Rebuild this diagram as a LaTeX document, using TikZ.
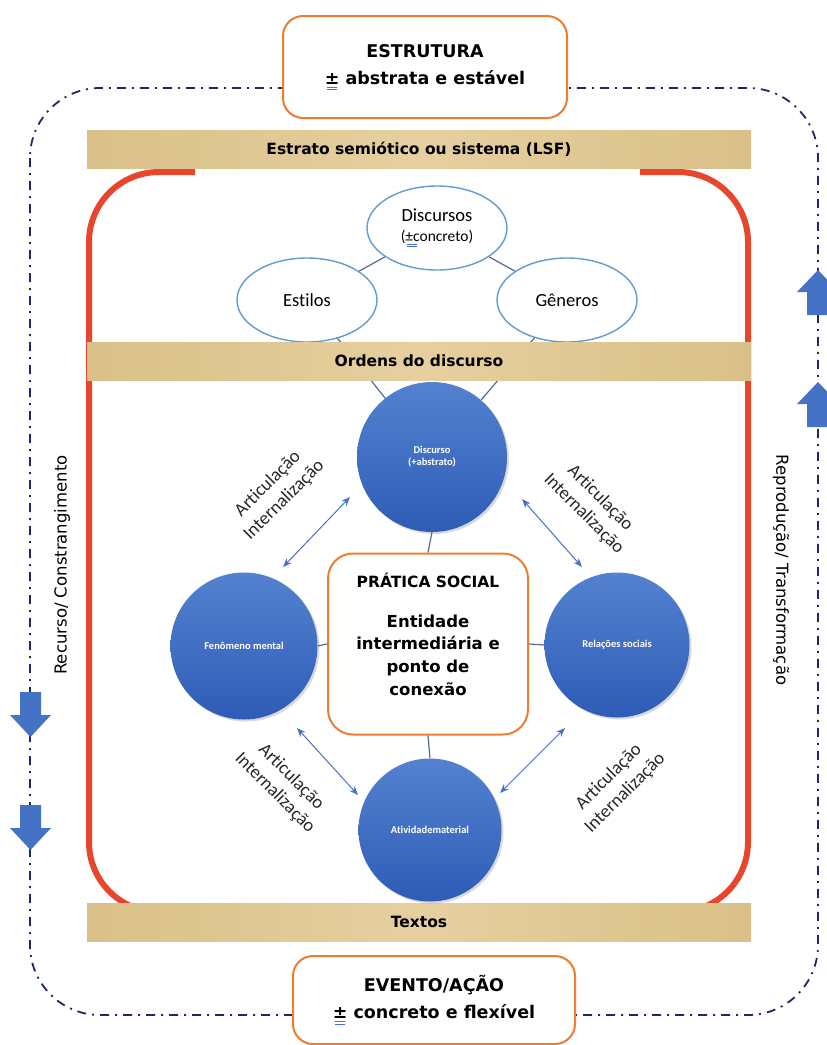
\documentclass[tikz,border=0pt]{standalone}
\usepackage{fontspec}
\setmainfont{DejaVu Sans}
\newfontfamily\calibri[Ligatures=NoCommon]{Carlito}
\usetikzlibrary{shapes.geometric,arrows.meta,shadows}

\definecolor{boxorange}{RGB}{237,125,49}
\definecolor{framered}{RGB}{232,70,44}
\definecolor{framenavy}{RGB}{28,40,105}
\definecolor{papyrus}{RGB}{230,208,160}
\definecolor{papyrusdark}{RGB}{218,192,136}
\definecolor{ovalblue}{RGB}{96,155,212}
\definecolor{balltop}{RGB}{84,130,208}
\definecolor{ballbottom}{RGB}{46,92,182}
\definecolor{linkgray}{RGB}{88,106,146}
\definecolor{arrowblue}{RGB}{68,114,196}
\definecolor{markblue}{RGB}{70,110,225}

% plus sign with the blue double underline
\newcommand{\maismenos}{\makebox[0pt][l]{\hspace{0.1em}\textcolor{markblue}{\rule[-0.2em]{0.62em}{0.055em}}}\makebox[0pt][l]{\hspace{0.1em}\textcolor{markblue}{\rule[-0.34em]{0.62em}{0.055em}}}±}

\tikzset{
  bigbox/.style={draw=boxorange, line width=2pt, rounded corners=20pt, fill=white, minimum width=284pt, minimum height=102pt, align=center, font=\bfseries\fontsize{17.5}{27}\selectfont},
  band/.style={left color=papyrusdark, right color=papyrusdark, middle color=papyrus, minimum width=664pt, minimum height=38pt, font=\bfseries\fontsize{15.5}{18}\selectfont},
  oval/.style={ellipse, draw=ovalblue, line width=1.4pt, fill=white, minimum width=140pt, minimum height=84pt, align=center, font=\calibri\fontsize{18.5}{22}\selectfont},
  ball/.style={circle, top color=balltop, bottom color=ballbottom, drop shadow={opacity=0.3, shadow xshift=2pt, shadow yshift=-2pt}, text=white, align=center, font=\calibri\bfseries\fontsize{10.5}{12}\selectfont},
  link/.style={draw=linkgray, line width=1.2pt},
  twoway/.style={{Stealth[length=9pt,width=7pt]}-{Stealth[length=9pt,width=7pt]}, draw=arrowblue, line width=1pt},
  artic/.style={align=center, text=black!85, font=\calibri\fontsize{18.5}{23}\selectfont},
  sidelabel/.style={font=\fontsize{16.5}{20}\selectfont},
}

\begin{document}
\begin{tikzpicture}[x=1pt,y=-1pt]
\clip (0,0) rectangle (827,1045);

% outer frame and the side arrows
\draw[framenavy, line width=1.8pt, dash pattern=on 9pt off 6pt on 2pt off 6pt, rounded corners=70pt] (30,88) rectangle (818,1015);
\foreach \ay in {692,805}
  \fill[arrowblue] (20,\ay) -- (41,\ay) -- (41,\ay+23) -- (51,\ay+23) -- (30.5,\ay+45) -- (10,\ay+23) -- (20,\ay+23) -- cycle;
\foreach \ay in {270,382}
  \fill[arrowblue] (818,\ay) -- (839,\ay+22) -- (829,\ay+22) -- (829,\ay+45) -- (807,\ay+45) -- (807,\ay+22) -- (797,\ay+22) -- cycle;
\node[sidelabel, rotate=90] (recurso) at (62,565) {Recurso/ Constrangimento};
\node[sidelabel, rotate=-90] (reproducao) at (781,570) {Reprodução/ Transformação};

% red frame
\draw[framered, line width=6pt, rounded corners=70pt] (195,172) -| (89,912) -| (748,172) -- (640,172);

% orders of discourse
\node[oval] (discursos) at (437,228) {Discursos\\[-2pt]{\fontsize{15.5}{18}\selectfont(\maismenos concreto)}};
\node[oval] (estilos) at (307,300) {Estilos};
\node[oval] (generos) at (567,300) {Gêneros};
\node[ball] (disc) at (432,457) [minimum size=150pt] {Discurso\\(+abstrato)};
\draw[link] (discursos) -- (estilos);
\draw[link] (discursos) -- (generos);
\draw[link] (estilos) -- (disc);
\draw[link] (generos) -- (disc);

\node[band] (estrato) at (419,149) {Estrato semiótico ou sistema (LSF)};
\node[band] (ordens) at (419,361) {Ordens do discurso};
\node[band] (textos) at (419,922) {Textos};

% social practice
\node[ball] (fenom) at (244,646) [minimum size=147pt] {Fenômeno mental};
\node[ball] (relac) at (617,645) [minimum size=145pt] {Relações sociais};
\node[ball] (ativ) at (430,830) [minimum size=143pt] {Atividadematerial};
\node[draw=boxorange, line width=2pt, rounded corners=25pt, fill=white, minimum width=200pt, minimum height=181pt] (pratica) at (428,644) {};
\node[font=\bfseries\fontsize{15.5}{18}\selectfont] (pratitle) at (428,580) {PRÁTICA SOCIAL};
\node[align=center, font=\bfseries\fontsize{16.5}{22.6}\selectfont] (prabody) at (428,655) {Entidade\\intermediária e\\ponto de\\conexão};
\draw[link] (pratica.north) -- (disc.south);
\draw[link] (pratica.west) -- (fenom.east);
\draw[link] (pratica.east) -- (relac.west);
\draw[link] (pratica.south) -- (ativ.north);

\coordinate (tla) at (283,567);
\coordinate (tlb) at (350,497);
\coordinate (tra) at (522,499);
\coordinate (trb) at (582,567);
\coordinate (bla) at (297,728);
\coordinate (blb) at (358,795);
\coordinate (bra) at (565,728);
\coordinate (brb) at (500,793);
\draw[twoway] (tla) -- (tlb);
\draw[twoway] (tra) -- (trb);
\draw[twoway] (bla) -- (blb);
\draw[twoway] (bra) -- (brb);
\node[artic, rotate=45] (articTL) at (276,492) {Articulação\\Internalização};
\node[artic, rotate=-45] (articTR) at (592,506) {Articulação\\Internalização};
\node[artic, rotate=-45] (articBL) at (283,785) {Articulação\\Internalização};
\node[artic, rotate=45] (articBR) at (617,785) {Articulação\\Internalização};

% structure and event
\node[bigbox] (estrutura) at (425,67) {ESTRUTURA\\\maismenos{} abstrata e estável};
\node[bigbox, minimum width=282pt, minimum height=88pt] (evento) at (434,1000) {EVENTO/AÇÃO\\\maismenos{} concreto e flexível};
\end{tikzpicture}
\end{document}
